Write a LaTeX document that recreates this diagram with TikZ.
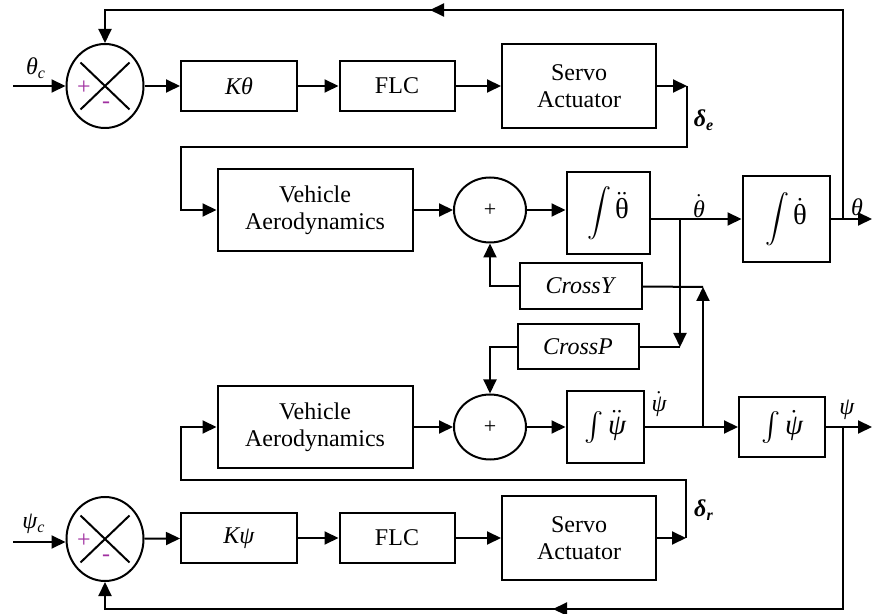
\documentclass[tikz,border=0pt]{standalone}
\usepackage{fontspec}
\setmainfont{Liberation Serif}
\usepackage{amsmath}
\usetikzlibrary{arrows.meta, shapes.geometric}
\definecolor{signoMag}{HTML}{A030A0}

\begin{document}
\begin{tikzpicture}[x=0.5pt, y=-0.5pt,
    font=\fontsize{12pt}{13.5pt}\selectfont,
    bloque/.style={draw, line width=1pt, align=center, inner sep=1pt},
    sumador/.style={draw, ellipse, line width=1pt, inner sep=0pt,
                    minimum width=38.5pt, minimum height=42pt},
    suma/.style={draw, ellipse, line width=1pt, inner sep=0pt,
                 minimum width=36pt, minimum height=32.5pt,
                 font=\fontsize{11pt}{13pt}\selectfont},
    signo/.style={text=signoMag, inner sep=0pt},
    etq/.style={inner sep=0pt},
    fl/.style={-{Triangle[length=7pt, width=6.5pt]}, line width=1pt},
    ln/.style={line width=1pt}]
    \useasboundingbox (0,0) rectangle (873,614);
    % pitch channel
    \node[sumador] (sT) at (105,86) {};
    \node[bloque, minimum width=58pt, minimum height=25pt] (kth) at (239,86) {\textit{Kθ}};
    \node[bloque, minimum width=57.5pt, minimum height=25pt] (flcT) at (397,86) {FLC};
    \node[bloque, minimum width=77pt, minimum height=42pt] (servoT) at (579,86) {Servo\\Actuator};
    \node[bloque, minimum width=97.5pt, minimum height=41pt] (vehT) at (315,210) {Vehicle\\Aerodynamics};
    \node[suma] (aT) at (490,210) {+};
    \node[bloque, minimum width=41.5pt, minimum height=41pt] (ithdd) at (608,213)
        {$\displaystyle\int$\,{\Large$\ddot{\mbox{θ}}$}};
    \node[bloque, minimum width=43.5pt, minimum height=43pt] (ithd) at (786,219)
        {$\displaystyle\int$\,{\Large$\dot{\mbox{θ}}$}};
    % cross coupling
    \node[bloque, minimum width=61pt, minimum height=23pt] (cY) at (581,286) {\textit{CrossY}};
    \node[bloque, minimum width=60.5pt, minimum height=22.5pt] (cP) at (578,347) {\textit{CrossP}};
    % yaw channel
    \node[bloque, minimum width=97.5pt, minimum height=41pt] (vehB) at (315,427) {Vehicle\\Aerodynamics};
    \node[suma] (aB) at (490,427) {+};
    \node[bloque, minimum width=38.5pt, minimum height=36pt] (ipsdd) at (605,427)
        {\Large$\int\ddot{\mbox{\itshape ψ}}$};
    \node[bloque, minimum width=43pt, minimum height=30pt] (ipsd) at (782,427)
        {\Large$\int\dot{\mbox{\itshape ψ}}$};
    \node[bloque, minimum width=77pt, minimum height=41.5pt] (servoB) at (579,538) {Servo\\Actuator};
    \node[sumador] (sB) at (105,539) {};
    \node[bloque, minimum width=58pt, minimum height=25pt] (kps) at (239,538) {\textit{Kψ}};
    \node[bloque, minimum width=57.5pt, minimum height=25pt] (flcB) at (397,538) {FLC};
    % crosses in the comparators
    \foreach \s in {sT,sB}{
      \draw[line width=1pt] ([shift={(-24.5,-23.5)}]\s.center) -- ([shift={(24.5,23.5)}]\s.center);
      \draw[line width=1pt] ([shift={(24.5,-23.5)}]\s.center) -- ([shift={(-24.5,23.5)}]\s.center);
      \node[signo] at ([shift={(-21,2)}]\s.center) {+};
      \node[signo] at ([shift={(1,19)}]\s.center) {-};
    }
    % junctions and free ends
    \coordinate (thIn) at (13,86);
    \coordinate (psIn) at (13,542);
    \coordinate (deT) at (687,86);
    \coordinate (drB) at (686,538);
    \coordinate (thdJ) at (680,219);
    \coordinate (thJ) at (843,219);
    \coordinate (thOut) at (872,219);
    \coordinate (psdJ) at (703,427);
    \coordinate (psJ) at (843,427);
    \coordinate (psOut) at (872,427);
    \coordinate (cYR) at (703,287);
    \coordinate (cPR) at (680,347);
    \coordinate (fbT) at (430,10);
    \coordinate (fbB) at (553,609);
    % pitch loop
    \draw[fl] (thIn) -- (sT);
    \draw[fl] (sT) -- (kth);
    \draw[fl] (kth) -- (flcT);
    \draw[fl] (flcT) -- (servoT);
    \draw[fl] (servoT) -- (deT);
    \draw[fl] (deT) -- ++(0,61) -| ([xshift=-18pt]vehT.west) -- (vehT);
    \draw[fl] (vehT) -- (aT);
    \draw[fl] (aT) -- (aT -| ithdd.west);
    \draw[ln] (ithdd.east |- thdJ) -- (thdJ);
    \draw[fl] (thdJ) -- (ithd);
    \draw[fl] (ithd) -- (thOut);
    \draw[ln] (thJ) |- (fbT);
    \draw[fl] (thJ |- fbT) -- (fbT);
    \draw[fl] (fbT) -| (sT);
    % cross coupling
    \draw[fl] (psdJ) -- (cYR);
    \draw[ln] (cYR) -- (cY);
    \draw[fl] (cY) -| (aT);
    \draw[fl] (thdJ) -- (cPR);
    \draw[ln] (cPR) -- (cP);
    \draw[fl] (cP) -| (aB);
    % yaw loop
    \draw[fl] (psIn) -- (sB.west |- psIn);
    \draw[fl] (sB) -- (kps);
    \draw[fl] (kps) -- (flcB);
    \draw[fl] (flcB) -- (servoB);
    \draw[fl] (servoB) -- (drB);
    \draw[fl] (drB) -- ++(0,-58) -| ([xshift=-18pt]vehB.west) -- (vehB);
    \draw[fl] (vehB) -- (aB);
    \draw[fl] (aB) -- (ipsdd);
    \draw[fl] (ipsdd) -- (ipsd);
    \draw[fl] (ipsd) -- (psOut);
    \draw[ln] (psJ) |- (fbB);
    \draw[fl] (psJ |- fbB) -- (fbB);
    \draw[fl] (fbB) -| (sB);
    % signal labels
    \node[etq] at (36,68) {\textit{θ\textsubscript{c}}};
    \node[etq] at (34,524) {\textit{ψ\textsubscript{c}}};
    \node[etq] at (704,120) {\textbf{\textit{δ\textsubscript{e}}}};
    \node[etq] at (704,510) {\textbf{\textit{δ\textsubscript{r}}}};
    \node[etq] at (699,206) {$\dot{\mbox{\itshape θ}}$};
    \node[etq] at (857,207) {\textit{θ}};
    \node[etq] at (659,404) {$\dot{\mbox{\itshape ψ}}$};
    \node[etq] at (847,410) {\textit{ψ}};
  \end{tikzpicture}
\end{document}
